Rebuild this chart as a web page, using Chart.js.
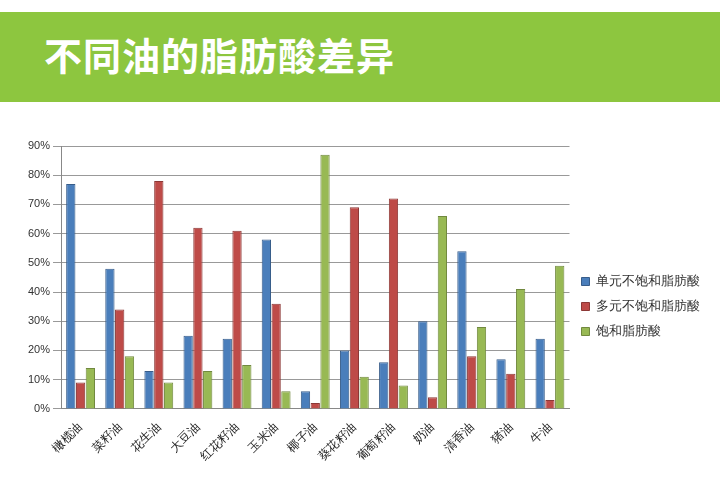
<!DOCTYPE html>
<html>
<head>
<meta charset="utf-8">
<script src="https://cdn.jsdelivr.net/npm/chart.js@4.4.0/dist/chart.umd.min.js"></script>
<style>
  body { margin: 0; width: 720px; height: 478px; background: #fff; overflow: hidden; font-family: "Noto Sans CJK SC", sans-serif; }
  #header { position: absolute; left: 0; top: 12px; width: 720px; height: 90px; background: #8dc63f; }
  #header h1 { margin: 0; position: absolute; left: 44px; top: 14px; color: #fff; font-size: 38px; font-weight: bold; letter-spacing: 1px; }
  #wrap { position: absolute; left: 10px; top: 135px; width: 700px; height: 332px; }
</style>
</head>
<body>
<div id="header"><h1>不同油的脂肪酸差异</h1></div>
<div id="wrap"><canvas id="oilChart"></canvas></div>
<script>
const oils = ['橄榄油', '菜籽油', '花生油', '大豆油', '红花籽油', '玉米油', '椰子油', '葵花籽油', '葡萄籽油', '奶油', '清香油', '猪油', '牛油'];
const monoUnsat = [77, 48, 13, 25, 24, 58, 6, 20, 16, 30, 54, 17, 24];
const polyUnsat = [9, 34, 78, 62, 61, 36, 2, 69, 72, 4, 18, 12, 3];
const saturated = [14, 18, 9, 13, 15, 6, 87, 11, 8, 66, 28, 41, 49];
const seriesNames = ['单元不饱和脂肪酸', '多元不饱和脂肪酸', '饱和脂肪酸'];

const canvas = document.getElementById('oilChart');
canvas.width = 700;
canvas.height = 332;

new Chart(canvas.getContext('2d'), {
    type: 'bar',
    data: {
        labels: oils,
        datasets: [
            { label: seriesNames[0], data: monoUnsat, backgroundColor: '#4a7ebb', borderColor: '#385d8a', borderWidth: 1 },
            { label: seriesNames[1], data: polyUnsat, backgroundColor: '#be4b48', borderColor: '#8c3836', borderWidth: 1 },
            { label: seriesNames[2], data: saturated, backgroundColor: '#98b954', borderColor: '#71893f', borderWidth: 1 }
        ]
    },
    options: {
        responsive: false,
        animation: false,
        layout: { padding: { left: 15, right: 0, top: 11, bottom: 0 } },
        datasets: { bar: { categoryPercentage: 0.75, barPercentage: 0.95 } },
        plugins: {
            legend: {
                position: 'right',
                align: 'center',
                labels: { boxWidth: 8, boxHeight: 8, padding: 12, font: { size: 13 }, color: '#333' }
            },
            tooltip: { enabled: false }
        },
        scales: {
            y: {
                min: 0,
                max: 90,
                ticks: { stepSize: 10, callback: v => v + '%', font: { size: 11 }, color: '#333' },
                grid: { color: '#999', drawTicks: true },
                border: { color: '#888' }
            },
            x: {
                ticks: { minRotation: 45, maxRotation: 45, font: { size: 12 }, color: '#222' },
                grid: { display: false },
                border: { color: '#888' }
            }
        }
    }
});
</script>
</body>
</html>
